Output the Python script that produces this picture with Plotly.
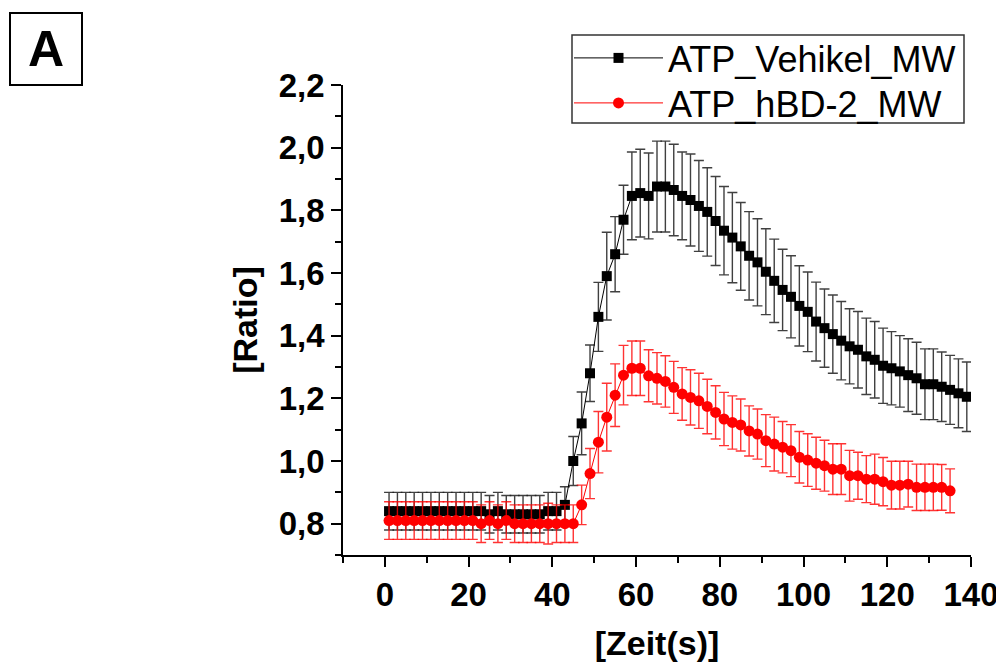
import plotly.graph_objects as go

# ---- data ----
t_vehikel = list(range(1, 140, 2))  # 1..139 s
ratio_vehikel = [
    0.84, 0.84, 0.84, 0.84, 0.84, 0.84, 0.84, 0.84, 0.84, 0.84, 0.84,
    0.84, 0.83, 0.84, 0.83, 0.83, 0.83, 0.83, 0.83, 0.84, 0.84,
    0.86, 1.00, 1.12, 1.28, 1.46, 1.59, 1.66, 1.77,
    1.846, 1.855, 1.846, 1.876, 1.876, 1.865, 1.846, 1.833, 1.814, 1.795,
    1.766, 1.735, 1.713, 1.685, 1.655, 1.634, 1.604, 1.575, 1.546, 1.524,
    1.495, 1.476, 1.445, 1.424, 1.405, 1.384, 1.366, 1.355, 1.334, 1.323,
    1.304, 1.296, 1.286, 1.274, 1.264, 1.245, 1.245, 1.237, 1.227, 1.216,
    1.205,
]
err_vehikel = [
    0.06, 0.06, 0.06, 0.06, 0.06, 0.06, 0.06, 0.06, 0.06, 0.06, 0.06,
    0.06, 0.06, 0.06, 0.06, 0.06, 0.06, 0.06, 0.06, 0.06, 0.06,
    0.058, 0.078, 0.10, 0.09, 0.11, 0.14, 0.12, 0.11,
    0.14, 0.14, 0.137, 0.145, 0.145, 0.146, 0.14, 0.147, 0.145, 0.141,
    0.142, 0.141, 0.144, 0.14, 0.141, 0.139, 0.137, 0.133, 0.13, 0.131,
    0.128, 0.127, 0.126, 0.125, 0.125, 0.125, 0.12, 0.122, 0.122, 0.122,
    0.12, 0.117, 0.114, 0.116, 0.115, 0.113, 0.113, 0.111, 0.11, 0.11,
    0.111,
]

t_hbd2 = list(range(1, 136, 2))  # 1..135 s
ratio_hbd2 = [
    0.81, 0.81, 0.81, 0.81, 0.81, 0.81, 0.81, 0.81, 0.81, 0.81, 0.81,
    0.80, 0.81, 0.80, 0.81, 0.80, 0.80, 0.80, 0.80, 0.80, 0.80,
    0.80, 0.80, 0.86, 0.96, 1.06, 1.14, 1.21,
    1.274, 1.296, 1.296, 1.272, 1.264, 1.254, 1.235, 1.214, 1.203, 1.192,
    1.174, 1.155, 1.134, 1.123, 1.115, 1.096, 1.086, 1.065, 1.054, 1.044,
    1.033, 1.012, 1.003, 0.993, 0.985, 0.974, 0.974, 0.953, 0.953, 0.942,
    0.942, 0.934, 0.923, 0.923, 0.926, 0.916, 0.916, 0.916, 0.916, 0.905,
]
err_hbd2 = [
    0.06, 0.06, 0.06, 0.06, 0.06, 0.06, 0.06, 0.06, 0.06, 0.06, 0.06,
    0.06, 0.06, 0.06, 0.06, 0.06, 0.06, 0.06, 0.06, 0.065, 0.06,
    0.06, 0.06, 0.063, 0.08, 0.098, 0.108, 0.10,
    0.095, 0.087, 0.087, 0.083, 0.082, 0.082, 0.083, 0.084, 0.088, 0.088,
    0.087, 0.085, 0.085, 0.085, 0.083, 0.08, 0.08, 0.083, 0.086, 0.082,
    0.083, 0.082, 0.084, 0.083, 0.081, 0.081, 0.081, 0.081, 0.075, 0.075,
    0.08, 0.077, 0.076, 0.076, 0.073, 0.074, 0.074, 0.074, 0.073, 0.07,
]

x_ticks = [0, 20, 40, 60, 80, 100, 120, 140]
y_ticks = [0.8, 1.0, 1.2, 1.4, 1.6, 1.8, 2.0, 2.2]
y_ticktext = ["0,8", "1,0", "1,2", "1,4", "1,6", "1,8", "2,0", "2,2"]

FONT = "Liberation Sans, Arial, sans-serif"

OFF = 8  # page body margin
W, H = 1004 - OFF, 662 - OFF
ML, MR, MT, MB = 0, 0, 0, 0
PW, PH = W - ML - MR, H - MT - MB


def px_x(p):
    return (p - OFF - ML) / PW


def px_y(p):
    return (H - MB - (p - OFF)) / PH


fig = go.Figure()
fig.add_trace(go.Scatter(
    x=t_vehikel, y=ratio_vehikel, name="ATP_Vehikel_MW",
    mode="lines+markers", legend="legend",
    line=dict(color="black", width=1),
    marker=dict(symbol="square", size=10, color="black"),
    error_y=dict(type="data", array=err_vehikel, visible=True,
                 color="rgba(30,30,30,0.85)", thickness=1.4, width=5),
))
fig.add_trace(go.Scatter(
    x=t_hbd2, y=ratio_hbd2, name="ATP_hBD-2_MW",
    mode="lines+markers", legend="legend2",
    line=dict(color="#ff0000", width=1),
    marker=dict(symbol="circle", size=11, color="#ff0000"),
    error_y=dict(type="data", array=err_hbd2, visible=True,
                 color="rgba(255,0,0,0.8)", thickness=1.4, width=5),
))

axis_common = dict(
    showline=True, linecolor="black", linewidth=1.5,
    ticks="outside", ticklen=10, tickwidth=1.5, tickcolor="black",
    showgrid=False, zeroline=False, automargin=False,
    tickfont=dict(family=FONT, size=33, color="black", weight="bold"),
)

legend_common = dict(
    xanchor="left", yanchor="middle",
    borderwidth=0, bgcolor="rgba(0,0,0,0)",
    font=dict(family=FONT, size=36, color="black"),
    itemwidth=89,
)

fig.update_layout(
    width=W, height=H,
    margin=dict(l=ML, r=MR, t=MT, b=MB, pad=0),
    paper_bgcolor="white", plot_bgcolor="white",
    showlegend=True,
    legend=dict(x=px_x(569), y=px_y(58), **legend_common),
    legend2=dict(x=px_x(569), y=px_y(103), **legend_common),
    xaxis=dict(
        domain=[px_x(343), px_x(971)],
        range=[-10, 140], tickvals=x_ticks,
        minor=dict(dtick=10, tick0=0, ticks="outside", ticklen=6, tickwidth=1.5, tickcolor="black"),
        title=dict(text="[Zeit(s)]", standoff=21,
                   font=dict(family=FONT, size=34, color="black", weight="bold")),
        **axis_common,
    ),
    yaxis=dict(
        domain=[px_y(555), px_y(85)],
        range=[0.7, 2.2], tickvals=y_ticks, ticktext=y_ticktext,
        minor=dict(dtick=0.1, tick0=0.7, ticks="outside", ticklen=6, tickwidth=1.5, tickcolor="black"),
        title=dict(text="[Ratio]", standoff=11,
                   font=dict(family=FONT, size=34, color="black", weight="bold")),
        **axis_common,
    ),
    shapes=[dict(
        type="rect", xref="paper", yref="paper", layer="above",
        x0=px_x(572), x1=px_x(964), y0=px_y(123), y1=px_y(35),
        line=dict(color="#333", width=1.5), fillcolor="white",
    )],
    annotations=[dict(
        text="<b>A</b>", xref="paper", yref="paper",
        x=px_x(45.5), y=px_y(48.5), xanchor="center", yanchor="middle",
        showarrow=False, width=68, height=68,
        bordercolor="black", borderwidth=2, borderpad=1,
        font=dict(family=FONT, size=50, color="black"),
    )],
)

fig.write_html("out.html")
